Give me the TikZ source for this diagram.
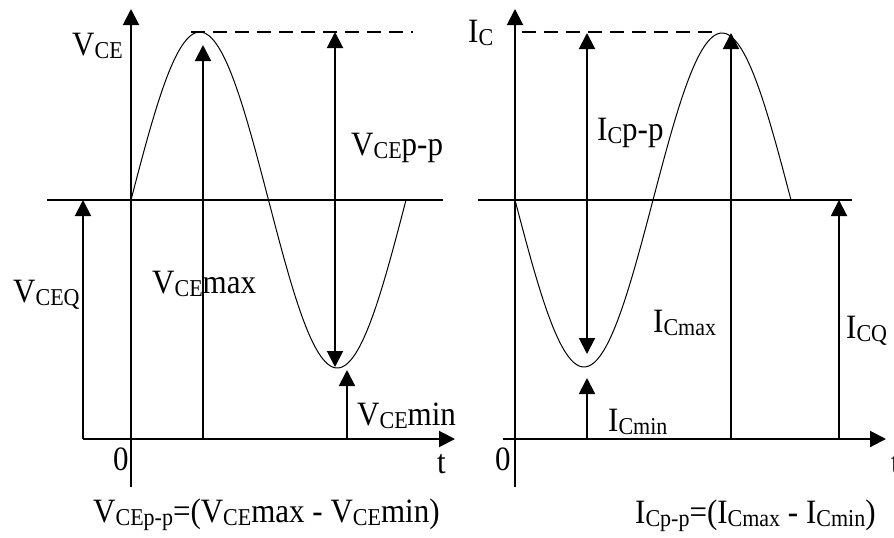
\documentclass[tikz,border=0pt]{standalone}
\usepackage{fontspec}
\setmainfont{Liberation Serif}
\usetikzlibrary{arrows.meta}
\newcommand{\sbs}[1]{\raisebox{-3pt}{\fontsize{22}{22}\selectfont #1}}
\newcommand{\tx}[1]{\scalebox{1}[1.1]{#1}}
\begin{document}
\begin{tikzpicture}[x=1pt,y=-1pt,
  axis/.style={line width=2pt},
  arr/.style={line width=2pt,-{Triangle[length=16pt,width=16pt]}},
  darr/.style={line width=2pt,{Triangle[length=16pt,width=16pt]}-{Triangle[length=16pt,width=16pt]}},
  wave/.style={line width=1pt},
  guide/.style={line width=1.6pt,dash pattern=on 14pt off 8pt},
  lbl/.style={anchor=base west,inner sep=0pt,font=\fontsize{31}{31}\selectfont}]
\useasboundingbox (0,0) rectangle (894,538);

% ---------- left panel ----------
\coordinate (Lvb) at (131,487); \coordinate (Lvt) at (131,9);
\coordinate (Lm1) at (47,200);  \coordinate (Lm2) at (443,200);
\coordinate (Lh1) at (83,439);  \coordinate (Lh2) at (455,439);
\coordinate (Ld1) at (191,32);  \coordinate (Ld2) at (413,32);
\coordinate (Lq0) at (83,439);  \coordinate (Lq1) at (83,200);
\coordinate (Lx0) at (203,439); \coordinate (Lx1) at (203,45);
\coordinate (Lp0) at (335,32);  \coordinate (Lp1) at (335,367);
\coordinate (Ln0) at (347,439); \coordinate (Ln1) at (347,370);

\draw[arr] (Lvb) -- (Lvt);
\draw[axis] (Lm1) -- (Lm2);
\draw[arr] (Lh1) -- (Lh2);
\draw[guide] (Ld1) -- (Ld2);
\draw[wave] plot[domain=0:275,samples=120,smooth] ({131+\x},{200-168*sin(1.30909*\x)});
\draw[arr] (Lq0) -- (Lq1);
\draw[arr] (Lx0) -- (Lx1);
\draw[darr] (Lp0) -- (Lp1);
\draw[arr] (Ln0) -- (Ln1);

\node[lbl] (lvce) at (72,55) {\tx{V\sbs{CE}}};
\node[lbl] (lvpp) at (351,155) {\tx{V\sbs{CE}p-p}};
\node[lbl] (lvq) at (13,302) {\tx{V\sbs{CEQ}}};
\node[lbl] (lvmax) at (152,293) {\tx{V\sbs{CE}max}};
\node[lbl] (lvmin) at (357,425) {\tx{V\sbs{CE}min}};
\node[lbl] (l0) at (113,470) {\tx{0}};
\node[lbl] (lt) at (437,473) {\tx{t}};
\node[lbl] (lform) at (93,522) {\tx{V\sbs{CEp-p}=(V\sbs{CE}max - V\sbs{CE}min)}};

% ---------- right panel ----------
\coordinate (Rvb) at (515,487); \coordinate (Rvt) at (515,9);
\coordinate (Rm1) at (478,200); \coordinate (Rm2) at (852,200);
\coordinate (Rh1) at (503,439); \coordinate (Rh2) at (886,439);
\coordinate (Rd1) at (522,32);  \coordinate (Rd2) at (720,32);
\coordinate (Rp0) at (587,33);  \coordinate (Rp1) at (587,354);
\coordinate (Rn0) at (587,439); \coordinate (Rn1) at (587,378);
\coordinate (Rx0) at (731,439); \coordinate (Rx1) at (731,33);
\coordinate (Rq0) at (839,439); \coordinate (Rq1) at (839,200);

\draw[arr] (Rvb) -- (Rvt);
\draw[axis] (Rm1) -- (Rm2);
\draw[arr] (Rh1) -- (Rh2);
\draw[guide] (Rd1) -- (Rd2);
\draw[wave] plot[domain=0:276,samples=120,smooth] ({515+\x},{200+167*sin(1.30435*\x)});
\draw[darr] (Rp0) -- (Rp1);
\draw[arr] (Rn0) -- (Rn1);
\draw[arr] (Rx0) -- (Rx1);
\draw[arr] (Rq0) -- (Rq1);

\node[lbl] (ric) at (468,42) {\tx{I\sbs{C}}};
\node[lbl] (ripp) at (597,140) {\tx{I\sbs{C}p-p}};
\node[lbl] (rimax) at (653,332) {\tx{I\sbs{Cmax}}};
\node[lbl] (riq) at (846,338) {\tx{I\sbs{CQ}}};
\node[lbl] (rimin) at (608,431) {\tx{I\sbs{Cmin}}};
\node[lbl] (r0) at (495,470) {\tx{0}};
\node[lbl] (rt) at (891,473) {\tx{t}};
\node[lbl] (rform) at (635,523) {\tx{I\sbs{Cp-p}=(I\sbs{Cmax} - I\sbs{Cmin})}};
\end{tikzpicture}
\end{document}
